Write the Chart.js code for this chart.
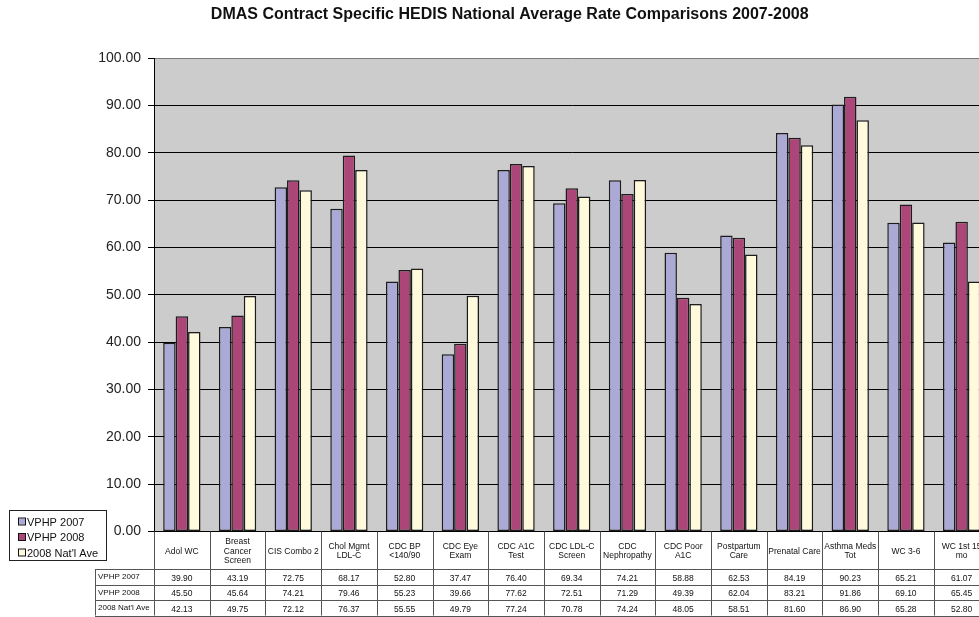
<!DOCTYPE html>
<html>
<head>
<meta charset="utf-8">
<title>DMAS Contract Specific HEDIS National Average Rate Comparisons 2007-2008</title>
<script src="https://cdn.jsdelivr.net/npm/chart.js@4.4.1/dist/chart.umd.min.js"></script>
<style>
  html, body { margin: 0; padding: 0; background: #fff; overflow: hidden; }
  #wrap { width: 1000px; height: 617px; }
</style>
</head>
<body>
<div id="wrap"><canvas id="chart" width="1000" height="617"></canvas></div>
<script>
// categories (multi-line labels as in the data table header)
const categories = [
    ['Adol WC'],
    ['Breast', 'Cancer', 'Screen'],
    ['CIS Combo 2'],
    ['Chol Mgmt', 'LDL-C'],
    ['CDC BP', '<140/90'],
    ['CDC Eye', 'Exam'],
    ['CDC A1C', 'Test'],
    ['CDC LDL-C', 'Screen'],
    ['CDC', 'Nephropathy'],
    ['CDC Poor', 'A1C'],
    ['Postpartum', 'Care'],
    ['Prenatal Care'],
    ['Asthma Meds', 'Tot'],
    ['WC 3-6'],
    ['WC 1st 15', 'mo']
];

const vphp2007 = [39.90, 43.19, 72.75, 68.17, 52.80, 37.47, 76.40, 69.34, 74.21, 58.88, 62.53, 84.19, 90.23, 65.21, 61.07];
const vphp2008 = [45.50, 45.64, 74.21, 79.46, 55.23, 39.66, 77.62, 72.51, 71.29, 49.39, 62.04, 83.21, 91.86, 69.10, 65.45];
const natAve2008 = [42.13, 49.75, 72.12, 76.37, 55.55, 49.79, 77.24, 70.78, 74.24, 48.05, 58.51, 81.60, 86.90, 65.28, 52.80];

const seriesNames = ['VPHP 2007', 'VPHP 2008', "2008 Nat'l Ave"];
const yTicks = [0, 10, 20, 30, 40, 50, 60, 70, 80, 90, 100];

const colors = ['#aba9d5', '#ac4678', '#fffadc'];
const fontFamily = 'Arial, "Liberation Sans", sans-serif';

// grey plot area like the excel chart
const plotBackground = {
    id: 'plotBackground',
    beforeDraw: (chart) => {
        const { ctx, chartArea } = chart;
        ctx.save();
        ctx.fillStyle = '#cccccc';
        ctx.fillRect(chartArea.left, chartArea.top, chartArea.right - chartArea.left, chartArea.bottom - chartArea.top);
        ctx.restore();
    }
};

// data table under the x axis + the legend box on the left
const dataTable = {
    id: 'dataTable',
    afterDraw: (chart) => {
        const { ctx, chartArea } = chart;
        const x = chart.scales.x;
        const n = categories.length;
        const catW = (chartArea.right - chartArea.left) / n;
        const top = chartArea.bottom;
        const headerH = 37.5;
        const rowH = 15.5;
        const labelLeft = 95;
        const bottom = top + headerH + rowH * 3;

        ctx.save();
        ctx.strokeStyle = '#555';
        ctx.lineWidth = 1;

        // vertical cell lines
        for (let i = 0; i <= n; i++) {
            let px = Math.round(chartArea.left + i * catW) + 0.5;
            ctx.beginPath();
            ctx.moveTo(px, top);
            ctx.lineTo(px, bottom);
            ctx.stroke();
        }
        ctx.beginPath();
        ctx.moveTo(labelLeft + 0.5, top + headerH);
        ctx.lineTo(labelLeft + 0.5, bottom);
        ctx.stroke();

        // horizontal row lines
        for (let r = 0; r <= 3; r++) {
            let py = Math.round(top + headerH + r * rowH) + 0.5;
            ctx.beginPath();
            ctx.moveTo(labelLeft, py);
            ctx.lineTo(chartArea.right, py);
            ctx.stroke();
        }

        ctx.fillStyle = '#111';
        ctx.font = '8.5px ' + fontFamily;
        ctx.textBaseline = 'middle';

        // header labels
        ctx.textAlign = 'center';
        categories.forEach((lines, i) => {
            const cx = x.getPixelForValue(i);
            const lh = 9.5;
            const startY = top + headerH / 2 - (lines.length - 1) * lh / 2 + 1;
            lines.forEach((line, j) => {
                ctx.fillText(line, cx, startY + j * lh);
            });
        });

        // rows
        const rows = [vphp2007, vphp2008, natAve2008];
        rows.forEach((vals, r) => {
            const cy = top + headerH + r * rowH + rowH / 2 + 0.5;
            ctx.font = '8px ' + fontFamily;
            ctx.textAlign = 'left';
            ctx.fillText(seriesNames[r], labelLeft + 3, cy);
            ctx.font = '8.5px ' + fontFamily;
            ctx.textAlign = 'center';
            vals.forEach((v, i) => {
                ctx.fillText(v.toFixed(2), x.getPixelForValue(i), cy + 1);
            });
        });

        // legend
        ctx.strokeStyle = '#222';
        ctx.strokeRect(9.5, 510.5, 97, 50);
        ctx.font = '11px ' + fontFamily;
        ctx.textAlign = 'left';
        const legendY = [522, 537.5, 553];
        seriesNames.forEach((name, i) => {
            ctx.fillStyle = colors[i];
            ctx.fillRect(19, legendY[i] - 3.5, 6, 6);
            ctx.strokeStyle = '#111';
            ctx.strokeRect(18.5, legendY[i] - 4, 7, 7);
            ctx.fillStyle = '#111';
            ctx.fillText(name, 27, legendY[i] + 0.5);
        });
        ctx.restore();
    }
};

const canvas = document.querySelector('#chart');

const chart = new Chart(canvas, {
    type: 'bar',
    data: {
        labels: categories.map(c => c.join(' ')),
        datasets: [
            { label: seriesNames[0], data: vphp2007, backgroundColor: colors[0] },
            { label: seriesNames[1], data: vphp2008, backgroundColor: colors[1] },
            { label: seriesNames[2], data: natAve2008, backgroundColor: colors[2] }
        ].map(ds => Object.assign(ds, {
            borderColor: '#1c1c1c',
            borderWidth: 1.5,
            borderSkipped: false,
            categoryPercentage: 0.67,
            barPercentage: 1.0
        }))
    },
    options: {
        responsive: false,
        animation: false,
        layout: {
            // left padding pushes the title centre right, the chart is cut off on the right side
            padding: { left: 30, right: 10.5, top: 0, bottom: 85.5 }
        },
        plugins: {
            legend: { display: false },
            tooltip: { enabled: false },
            title: {
                display: true,
                text: 'DMAS Contract Specific HEDIS National Average Rate Comparisons 2007-2008',
                color: '#111',
                font: { family: fontFamily, size: 16, weight: 'bold' },
                padding: { top: 5, bottom: 34 }
            }
        },
        scales: {
            x: {
                display: false
            },
            y: {
                min: 0,
                max: 100,
                afterBuildTicks: (scale) => {
                    scale.ticks = yTicks.map(v => ({ value: v }));
                },
                afterFit: (scale) => {
                    scale.width = 124;
                },
                border: { display: true, color: '#000', width: 1 },
                grid: {
                    color: (c) => c.tick && c.tick.value === 100 ? '#7a7a7a' : '#000',
                    tickColor: '#000',
                    tickLength: 6,
                    drawTicks: true
                },
                ticks: {
                    color: '#222',
                    padding: 7,
                    font: { family: fontFamily, size: 14 },
                    callback: (v) => Number(v).toFixed(2)
                }
            }
        }
    },
    plugins: [plotBackground, dataTable]
});
</script>
</body>
</html>
